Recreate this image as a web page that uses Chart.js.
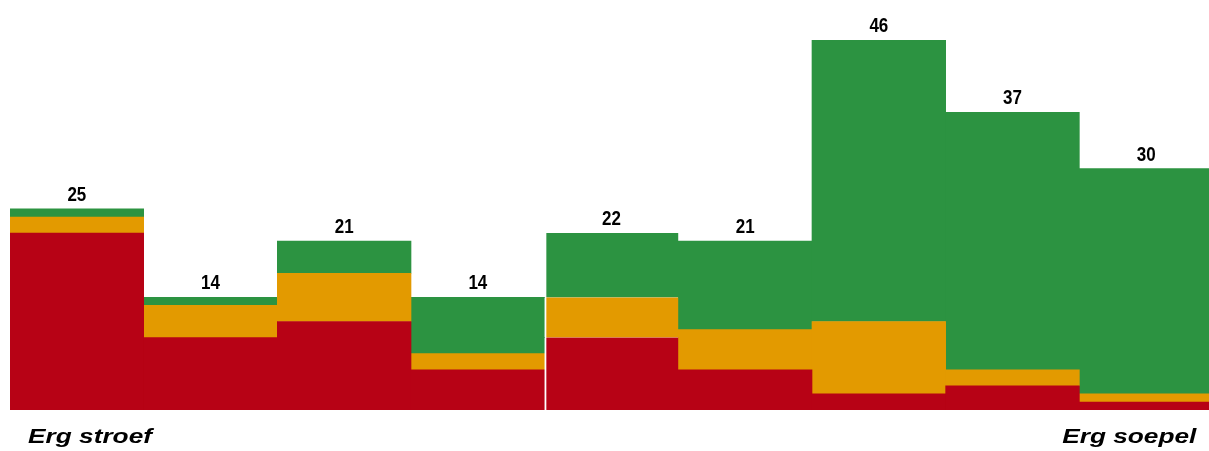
<!DOCTYPE html>
<html>
<head>
<meta charset="utf-8">
<script src="https://cdn.jsdelivr.net/npm/chart.js@4.4.1/dist/chart.umd.min.js"></script>
<style>
    body { margin: 0; background: #fff; }
    .wrap { position: relative; width: 1209px; height: 451px; overflow: hidden; }
    .end-label {
        position: absolute;
        top: 424px;
        font-family: "Liberation Sans", Arial, sans-serif;
        font-weight: bold;
        font-style: italic;
        font-size: 21px;
        color: #000;
        white-space: nowrap;
    }
    .left { left: 28px; transform: scaleX(1.25); transform-origin: left top; }
    .right { right: 13px; transform: scaleX(1.25); transform-origin: right top; }
</style>
</head>
<body>
<div class="wrap">
    <canvas id="stack-chart" width="1213" height="451"></canvas>
    <div class="end-label left">Erg stroef</div>
    <div class="end-label right">Erg soepel</div>
</div>
<script>
    "use strict";

    // Data
    var categories = ["1", "2", "3", "4", "5", "6", "7", "8", "9"];
    var redValues = [22, 9, 11, 5, 9, 5, 2, 3, 1];
    var orangeValues = [2, 4, 6, 2, 5, 5, 9, 2, 1];
    var greenValues = [1, 1, 4, 7, 8, 11, 35, 32, 28];
    var totals = [25, 14, 21, 14, 22, 21, 46, 37, 30];

    // white divider at the left edge of bar 5
    var dividerIndex = 4;
    var divider = function (ctx) {
        return ctx.dataIndex === dividerIndex ? {left: 2, top: 0, right: 0, bottom: 0} : 0;
    };

    // Total labels above each stack
    var totalLabels = {
        id: "totalLabels",
        afterDatasetsDraw: function (chart) {
            var c = chart.ctx;
            var x = chart.scales.x;
            var y = chart.scales.y;
            c.save();
            c.fillStyle = "#000";
            c.font = "bold 20px 'Liberation Sans', Arial, sans-serif";
            c.textAlign = "center";
            c.textBaseline = "alphabetic";
            totals.forEach(function (t, i) {
                c.save();
                c.translate(x.getPixelForValue(i), y.getPixelForValue(t) - 8);
                c.scale(0.85, 1);
                c.fillText(String(t), 0, 0);
                c.restore();
            });
            c.restore();
        }
    };

    var ctx = document.getElementById("stack-chart").getContext("2d");
    var myChart = new Chart(ctx, {
        type: "bar",
        data: {
            labels: categories,
            datasets: [{
                    label: "rood",
                    data: redValues,
                    backgroundColor: "#B70215",
                    borderColor: "#fff",
                    borderWidth: divider,
                    borderSkipped: false
                },
                {
                    label: "oranje",
                    data: orangeValues,
                    backgroundColor: "#E39A00",
                    borderColor: "#fff",
                    borderWidth: divider,
                    borderSkipped: false
                },
                {
                    label: "groen",
                    data: greenValues,
                    backgroundColor: "#2C9341",
                    borderColor: "#fff",
                    borderWidth: divider,
                    borderSkipped: false
                }
            ]
        },
        options: {
            responsive: false,
            animation: false,
            layout: {
                padding: {left: 10, right: 0, top: 40, bottom: 41}
            },
            datasets: {
                bar: {barPercentage: 1, categoryPercentage: 1}
            },
            plugins: {
                legend: {display: false},
                tooltip: {enabled: false}
            },
            scales: {
                x: {stacked: true, display: false},
                y: {stacked: true, display: false, min: 0, max: 46}
            }
        },
        plugins: [totalLabels]
    });
</script>
</body>
</html>
